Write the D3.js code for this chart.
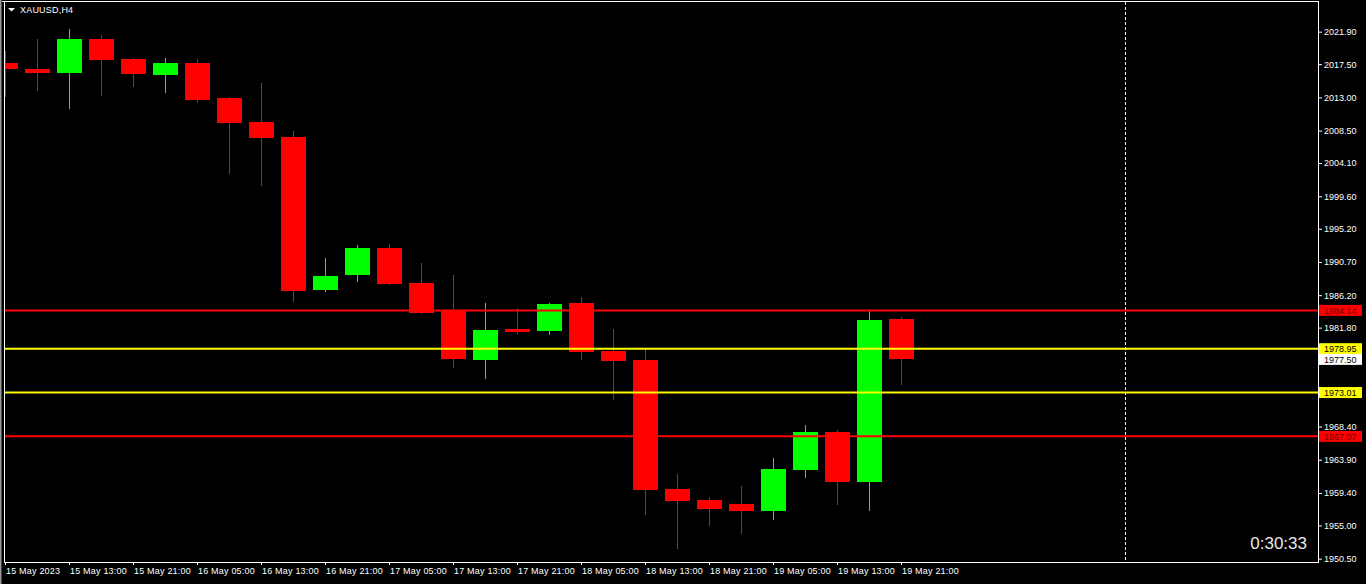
<!DOCTYPE html>
<html>
<head>
<meta charset="utf-8">
<script src="https://cdn.jsdelivr.net/npm/d3@7"></script>
<style>
  html, body { margin: 0; padding: 0; background: #000; overflow: hidden; }
  svg { display: block; }
  text { font-family: "Liberation Sans", Arial, sans-serif; }
</style>
</head>
<body>
<svg id="chart" width="1366" height="584"></svg>
<script>
// ---------- DATA ----------
const symbol = "XAUUSD,H4";
const times = [
  "15 May 05:00","15 May 09:00","15 May 13:00","15 May 17:00","15 May 21:00",
  "16 May 01:00","16 May 05:00","16 May 09:00","16 May 13:00","16 May 17:00","16 May 21:00",
  "17 May 01:00","17 May 05:00","17 May 09:00","17 May 13:00","17 May 17:00","17 May 21:00",
  "18 May 01:00","18 May 05:00","18 May 09:00","18 May 13:00","18 May 17:00","18 May 21:00",
  "19 May 01:00","19 May 05:00","19 May 09:00","19 May 13:00","19 May 17:00","19 May 21:00"
];
const opens  = [2017.66,2016.85,2016.30,2020.91,2018.20,2016.03,2017.66,2012.92,2009.67,2007.63,1986.91,
                1988.94,1992.60,1987.85,1984.20,1977.42,1981.62,1981.35,1985.14,1978.64,1977.42,1959.95,
                1958.46,1957.91,1956.96,1962.52,1967.67,1960.89,1982.98];
const highs  = [2019.29,2020.91,2022.27,2021.45,2018.34,2018.34,2018.20,2013.05,2014.95,2008.45,1991.24,
                1993.00,1993.14,1990.56,1988.94,1985.14,1984.47,1985.14,1985.96,1981.62,1978.91,1961.98,
                1958.86,1960.35,1964.15,1968.62,1967.94,1984.20,1983.25];
const lows   = [2013.09,2013.91,2011.43,2013.19,2014.41,2013.60,2012.24,2002.62,2001.00,1985.28,1986.60,
                1987.99,1987.58,1983.65,1976.34,1974.85,1980.94,1980.81,1977.42,1972.00,1956.42,1951.82,
                1954.93,1953.85,1955.75,1961.44,1957.78,1956.96,1974.03];
const closes = [2016.85,2016.30,2020.91,2018.07,2016.17,2017.66,2012.65,2009.53,2007.50,1986.77,1988.80,
                1992.60,1987.72,1983.79,1977.56,1981.49,1981.22,1985.00,1978.51,1977.29,1959.81,1958.32,
                1957.24,1956.96,1962.66,1967.67,1960.89,1982.84,1977.50];

const timeTickIndex = [0,2,4,6,8,10,12,14,16,18,20,22,24,26,28];
const timeTickLabels = ["15 May 2023","15 May 13:00","15 May 21:00","16 May 05:00","16 May 13:00",
  "16 May 21:00","17 May 05:00","17 May 13:00","17 May 21:00","18 May 05:00","18 May 13:00",
  "18 May 21:00","19 May 05:00","19 May 13:00","19 May 21:00"];

const priceTicks = [2021.90,2017.50,2013.00,2008.50,2004.10,1999.60,1995.20,1990.70,1986.20,
                    1981.80,1968.40,1963.90,1959.40,1955.00,1950.50];
const priceDomain = [1950.05, 2025.92];

const redLevels = [1984.14, 1967.07];
const yellowLevels = [1978.95, 1973.01];
const bidPrice = 1977.50;
const timerText = "0:30:33";

// ---------- LAYOUT ----------
const W = 1366, H = 584;
const plot = { left: 4.5, top: 1.5, right: 1318.5, bottom: 562.5 };
const candleStep = 32, bodyW = 25;
const firstX = 5;

const svg = d3.select("#chart");
svg.append("rect").attr("width", W).attr("height", H).attr("fill", "#000");

const y = d3.scaleLinear().domain(priceDomain).range([562, 2]);
const x = d3.scaleLinear().domain([0, times.length - 1])
  .range([firstX, firstX + candleStep * (times.length - 1)]);

svg.append("defs").append("clipPath").attr("id", "clip")
  .append("rect").attr("x", 5).attr("y", 2).attr("width", 1313).attr("height", 560);

const g = svg.append("g").attr("clip-path", "url(#clip)");

// candles
const data = times.map((t, i) => ({ t, i, o: opens[i], h: highs[i], l: lows[i], c: closes[i] }));
const bull = "#00ff00", bear = "#ff0000";
const cg = g.selectAll("g.candle").data(data).join("g").attr("class", "candle");
cg.append("line")
  .attr("x1", d => Math.round(x(d.i)) + 0.5).attr("x2", d => Math.round(x(d.i)) + 0.5)
  .attr("y1", d => Math.round(y(d.h))).attr("y2", d => Math.round(y(d.l)))
  .attr("stroke", d => d.c >= d.o ? bull : bear).attr("stroke-width", 1);
cg.append("rect")
  .attr("x", d => Math.round(x(d.i)) - 12)
  .attr("width", bodyW)
  .attr("y", d => Math.round(y(Math.max(d.o, d.c))))
  .attr("height", d => Math.max(2, Math.round(y(Math.min(d.o, d.c))) - Math.round(y(Math.max(d.o, d.c)))))
  .attr("fill", d => d.c >= d.o ? bull : bear);

// horizontal levels
const levels = redLevels.map(v => ({ v, col: "#ff0000", txt: "#6a0000" }))
  .concat(yellowLevels.map(v => ({ v, col: "#ffff00", txt: "#000" })));
svg.selectAll("line.level").data(levels).join("line").attr("class", "level")
  .attr("x1", 5).attr("x2", 1318)
  .attr("y1", d => y(d.v)).attr("y2", d => y(d.v))
  .attr("stroke", d => d.col).attr("stroke-width", 2);

// vertical dashed line
svg.append("line").attr("x1", 1125.5).attr("x2", 1125.5).attr("y1", 2).attr("y2", 562)
  .attr("stroke", "#fff").attr("stroke-width", 1).attr("stroke-dasharray", "3,2");

// frame
svg.append("rect").attr("x", plot.left).attr("y", plot.top)
  .attr("width", plot.right - plot.left).attr("height", plot.bottom - plot.top)
  .attr("fill", "none").attr("stroke", "#fff").attr("stroke-width", 1);
svg.append("line").attr("x1", 0).attr("x2", plot.left).attr("y1", 1.5).attr("y2", 1.5)
  .attr("stroke", "#fff");
svg.append("line").attr("x1", 0.5).attr("x2", 0.5).attr("y1", 0).attr("y2", H)
  .attr("stroke", "#9a9a9a");
svg.append("line").attr("x1", 1.5).attr("x2", 1.5).attr("y1", 0).attr("y2", H)
  .attr("stroke", "#4a4a4a");

// right axis
const yAxis = d3.axisRight(y).tickValues(priceTicks).tickSize(3).tickPadding(2)
  .tickFormat(d3.format(".2f"));
const ya = svg.append("g").attr("transform", "translate(1319,0)").call(yAxis);
ya.select(".domain").remove();
ya.selectAll("line").attr("stroke", "#fff");
ya.selectAll("text").attr("fill", "#fff").style("font-size", "9px")
  .style("font-family", "'Liberation Sans', Arial, sans-serif");

// bottom axis
const xAxis = d3.axisBottom(x).tickValues(timeTickIndex).tickSize(3).tickPadding(3)
  .tickFormat((d, k) => timeTickLabels[k]);
const xa = svg.append("g").attr("transform", "translate(0,562)").call(xAxis);
xa.select(".domain").remove();
xa.selectAll("line").attr("stroke", "#fff");
xa.selectAll("text").attr("fill", "#fff").attr("text-anchor", "start").attr("x", 0.5)
  .style("font-size", "9px").style("letter-spacing", "0.2px")
  .style("font-family", "'Liberation Sans', Arial, sans-serif");

// price labels on axis
const tags = levels.concat([{ v: bidPrice, col: "#ffffff", txt: "#000" }]);
const tg = svg.selectAll("g.tag").data(tags).join("g").attr("class", "tag");
tg.append("rect").attr("x", 1319).attr("width", 43)
  .attr("y", d => y(d.v) - 5.5).attr("height", 11)
  .attr("fill", d => d.col);
tg.append("text").attr("x", 1324).attr("y", d => y(d.v)).attr("dy", "0.35em")
  .attr("fill", d => d.txt).style("font-size", "9px")
  .text(d => d3.format(".2f")(d.v));

// header
svg.append("path").attr("d", d3.line()([[8, 8], [15, 8], [11.5, 11.5]]) + "Z").attr("fill", "#fff");
svg.append("text").attr("x", 20).attr("y", 13).attr("fill", "#fff")
  .style("font-size", "9px").style("letter-spacing", "0.2px").text(symbol);

// timer
svg.append("text").attr("x", 1307).attr("y", 549).attr("text-anchor", "end")
  .attr("fill", "#e8e8e8").style("font-size", "17px").text(timerText);
</script>
</body>
</html>
